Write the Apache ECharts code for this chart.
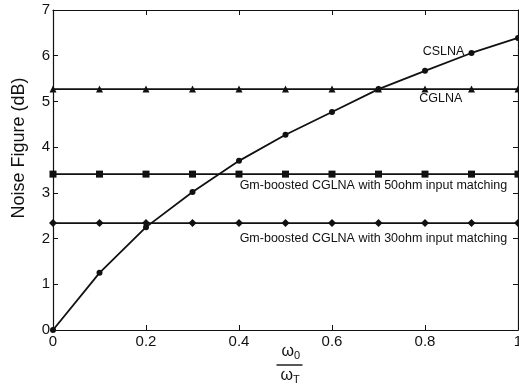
<!DOCTYPE html>
<html>
<head>
<meta charset="utf-8">
<script src="https://cdn.jsdelivr.net/npm/echarts@6/dist/echarts.min.js"></script>
<style>
  html, body { margin: 0; padding: 0; background: #fff; }
  #container { width: 519px; height: 389px; }
</style>
</head>
<body>
<div id="container"></div>
<script>
  // w0/wT values
  var ratio = [0, 0.1, 0.2, 0.3, 0.4, 0.5, 0.6, 0.7, 0.8, 0.9, 1.0];
  var cslna = [0, 1.25, 2.25, 3.02, 3.70, 4.27, 4.77, 5.27, 5.67, 6.06, 6.39];
  var cglna = [5.27, 5.27, 5.27, 5.27, 5.27, 5.27, 5.27, 5.27, 5.27, 5.27, 5.27];
  var gm50 = [3.41, 3.41, 3.41, 3.41, 3.41, 3.41, 3.41, 3.41, 3.41, 3.41, 3.41];
  var gm30 = [2.34, 2.34, 2.34, 2.34, 2.34, 2.34, 2.34, 2.34, 2.34, 2.34, 2.34];
  var xTicks = ['0', '0.2', '0.4', '0.6', '0.8', '1'];
  var yTicks = ['0', '1', '2', '3', '4', '5', '6', '7'];

  function pairs(ys) {
    return ratio.map(function (x, i) { return [x, ys[i]]; });
  }

  var font = 'Liberation Sans, Arial, sans-serif';
  var black = '#111';

  function mkSeries(name, ys, symbol, size, note) {
    var s = {
      name: name,
      type: 'line',
      data: pairs(ys),
      symbol: symbol,
      symbolSize: size,
      lineStyle: { color: black, width: 1.8 },
      itemStyle: { color: black },
      animation: false
    };
    if (note) {
      s.markPoint = {
        symbol: 'circle',
        symbolSize: 1,
        itemStyle: { color: 'rgba(0,0,0,0)' },
        label: {
          show: true, position: 'inside', formatter: note.text,
          color: black, fontFamily: font, fontSize: note.size
        },
        data: [{ coord: [note.x, note.y] }]
      };
    }
    return s;
  }

  var dom = document.getElementById('container');
  var myChart = echarts.init(dom);
  var axisBase = {
    axisLine: { show: true, onZero: false, lineStyle: { color: black, width: 1.2 } },
    axisTick: { show: true, inside: true, length: 5, lineStyle: { color: black } },
    splitLine: { show: false }
  };
  var option = {
    backgroundColor: '#fff',
    grid: { left: 53, right: 1, top: 10, bottom: 59, outerBoundsMode: 'none', containLabel: false },
    xAxis: [
      Object.assign({
        type: 'value', min: 0, max: 1, interval: 0.2,
        axisLabel: {
          color: black, fontFamily: font, fontSize: 15, margin: 4,
          formatter: function (v) { return xTicks[Math.round(v / 0.2)]; }
        }
      }, axisBase),
      Object.assign({
        type: 'value', min: 0, max: 1, interval: 0.2, position: 'top',
        axisLabel: { show: false }
      }, axisBase)
    ],
    yAxis: [
      Object.assign({
        type: 'value', min: 0, max: 7, interval: 1,
        name: 'Noise Figure (dB)', nameLocation: 'middle', nameGap: 25,
        nameTextStyle: { color: black, fontFamily: font, fontSize: 18, padding: [0, 0, 0, 44] },
        axisLabel: {
          color: black, fontFamily: font, fontSize: 15, margin: 3,
          formatter: function (v) { return yTicks[v]; }
        }
      }, axisBase),
      Object.assign({
        type: 'value', min: 0, max: 7, interval: 1, position: 'right',
        axisLabel: { show: false }
      }, axisBase)
    ],
    graphic: [{
      type: 'group', left: 274, top: 344,
      children: [
        { type: 'text', x: 5, y: 0, style: {
          text: '{w|ω}{s|0}', fill: black,
          rich: { w: { font: '16px ' + font, fill: black }, s: { font: '11px ' + font, fill: black, padding: [7, 0, 0, 0] } }
        } },
        { type: 'line', shape: { x1: 0, y1: 22, x2: 26, y2: 22 }, style: { stroke: black, lineWidth: 1.4 } },
        { type: 'text', x: 4, y: 24, style: {
          text: '{w|ω}{s|T}', fill: black,
          rich: { w: { font: '16px ' + font, fill: black }, s: { font: '11px ' + font, fill: black, padding: [7, 0, 0, 0] } }
        } }
      ]
    }],
    series: [
      mkSeries('CSLNA', cslna, 'circle', 6, { text: 'CSLNA', x: 0.84, y: 6.1, size: 12.5 }),
      mkSeries('CGLNA', cglna, 'triangle', 7, { text: 'CGLNA', x: 0.834, y: 5.07, size: 12.5 }),
      mkSeries('Gm-boosted CGLNA with 50ohm input matching', gm50, 'rect', 7,
        { text: 'Gm-boosted CGLNA with 50ohm input matching', x: 0.689, y: 3.15, size: 12.5 }),
      mkSeries('Gm-boosted CGLNA with 30ohm input matching', gm30, 'diamond', 8,
        { text: 'Gm-boosted CGLNA with 30ohm input matching', x: 0.689, y: 2.01, size: 12.5 })
    ]
  };
  if (option && typeof option === 'object') {
    myChart.setOption(option, true);
  }
</script>
</body>
</html>
